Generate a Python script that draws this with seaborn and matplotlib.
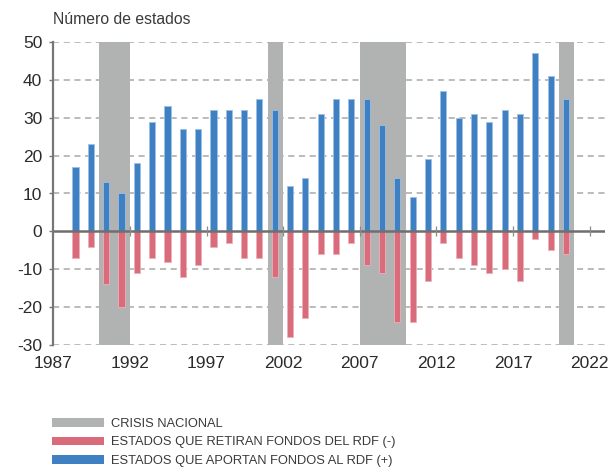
import matplotlib
matplotlib.use("Agg")
import matplotlib.pyplot as plt
from matplotlib.patches import Patch
import seaborn as sns
import numpy as np
import pandas as pd

years = list(range(1988, 2021))
aportan = [17, 23, 13, 10, 18, 29, 33, 27, 27, 32, 32, 32, 35, 32, 12, 14, 31,
           35, 35, 35, 28, 14, 9, 19, 37, 30, 31, 29, 32, 31, 47, 41, 35]
retiran = [-7, -4, -14, -20, -11, -7, -8, -12, -9, -4, -3, -7, -7, -12, -28, -23, -6,
           -6, -3, -9, -11, -24, -24, -13, -3, -7, -9, -11, -10, -13, -2, -5, -6]
crisis_start = [1990, 2001, 2007, 2020]
crisis_end = [1992, 2002, 2010, 2021]
xticks = [1987, 1992, 1997, 2002, 2007, 2012, 2017, 2022]
yticks = [-30, -20, -10, 0, 10, 20, 30, 40, 50]

legend_labels = ["CRISIS NACIONAL",
                 "ESTADOS QUE RETIRAN FONDOS DEL RDF (-)",
                 "ESTADOS QUE APORTAN FONDOS AL RDF (+)"]

BLUE = "#3f80c3"
RED = "#d96c7b"
GRAY = "#b1b3b3"
TXT = "#2b2b2b"

sns.set_theme(style="white")
plt.rcParams['font.family'] = ['Liberation Sans', 'DejaVu Sans']

fig = plt.figure(figsize=(6.09, 4.73), dpi=100)
ax = fig.add_axes([53.3 / 609, 1 - 345 / 473, (605 - 53.3) / 609, (345 - 42) / 473])

df = pd.DataFrame({"x": np.array(years) + 0.45, "aportan": aportan, "retiran": retiran})

for s, e in zip(crisis_start, crisis_end):
    ax.axvspan(s, e, ymin=0, ymax=1, color=GRAY, lw=0, zorder=1)

sns.barplot(data=df, x="x", y="aportan", native_scale=True, width=0.4,
            color=BLUE, saturation=1, edgecolor="#9cc0e6", linewidth=0.6,
            ax=ax, zorder=3)
sns.barplot(data=df, x="x", y="retiran", native_scale=True, width=0.4,
            color=RED, saturation=1, edgecolor="#eeb0ba", linewidth=0.6,
            ax=ax, zorder=3)

ax.set_xlim(1987, 2023)
ax.set_ylim(-30, 50)
ax.set_xticks(xticks)
ax.set_xticklabels([str(t) for t in xticks])
ax.set_yticks(yticks)
ax.set_yticklabels([str(t) for t in yticks])
ax.set_xlabel("")
ax.set_ylabel("")

for y in yticks:
    if y != 0:
        ax.axhline(y, color="#a8a8a8", lw=1.1, ls=(0, (4, 3)), zorder=0.5)
ax.axhline(0, color="#6f6f6f", lw=1.8, zorder=4)
ax.vlines(xticks[1:], -1.3, 1.3, color="#8a8a8a", lw=0.9, zorder=4)

for sp in ["top", "right", "bottom"]:
    ax.spines[sp].set_visible(False)
ax.spines["left"].set_color("#777777")
ax.spines["left"].set_linewidth(1.6)
ax.spines["left"].set_zorder(5)
ax.tick_params(axis="x", length=0, pad=8, labelsize=12.5, labelcolor=TXT)
ax.tick_params(axis="y", left=True, length=3, width=1, color="#777777",
               pad=5, labelsize=12.5, labelcolor=TXT)

fig.text(53 / 609, 1 - 20 / 473, "Número de estados", ha="left", va="center",
         fontsize=11.3, color="#3a3a3a")

handles = [Patch(facecolor=GRAY, edgecolor="none"),
           Patch(facecolor=RED, edgecolor="none"),
           Patch(facecolor=BLUE, edgecolor="none")]
leg = fig.legend(handles, legend_labels, loc="upper left",
                 bbox_to_anchor=(52 / 609, 1 - 418 / 473), frameon=False,
                 handlelength=4.0, handleheight=0.65, handletextpad=0.6,
                 labelspacing=0.5, borderpad=0, borderaxespad=0,
                 prop={"family": ["Liberation Sans Narrow", "Liberation Sans"], "size": 9.3})
for t in leg.get_texts():
    t.set_color("#3a3a3a")

fig.savefig("out.png", dpi=100)
